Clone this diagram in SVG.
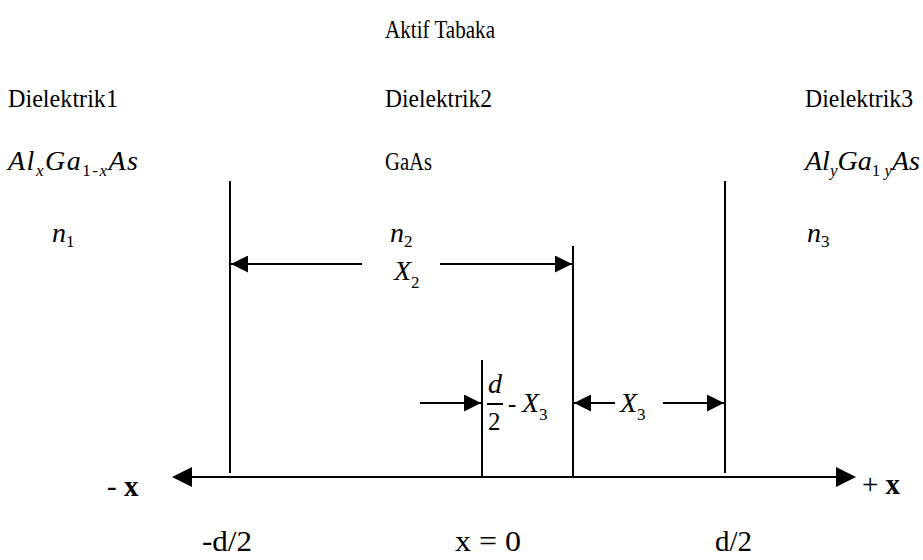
<svg xmlns="http://www.w3.org/2000/svg" width="923" height="560" viewBox="0 0 923 560">
<style>
text{font-family:'Liberation Serif','Times New Roman','DejaVu Serif',serif;fill:#000}
.t{font-size:25px}
.m{font-size:28px;font-style:italic}
.s{font-size:17px;font-style:normal}
.si{font-size:17px;font-style:italic}
.b{font-weight:bold}
.ax{font-size:29px}
.ln{stroke:#000;stroke-width:2;fill:none}
.hd{fill:#000}
</style>
<defs>
<marker id="as" viewBox="0 0 20 20" refX="20" refY="10" markerWidth="18" markerHeight="17" markerUnits="userSpaceOnUse" orient="auto">
<path d="M0,0 L20,10 L0,20 z" fill="#000"/>
</marker>
</defs>
<g id="title"><text class="t" x="385" y="38" textLength="110" lengthAdjust="spacingAndGlyphs">Aktif Tabaka</text></g>
<g id="layer1">
<text class="t" x="8" y="107" textLength="110" lengthAdjust="spacingAndGlyphs">Dielektrik1</text>
<text class="m" x="8" y="170" textLength="130" lengthAdjust="spacing">Al<tspan class="si" dy="6">x</tspan><tspan dy="-6">Ga</tspan><tspan class="s" dy="6">1-</tspan><tspan class="si">x</tspan><tspan dy="-6">As</tspan></text>
<text class="m" x="52" y="242">n<tspan class="s" dy="5">1</tspan></text>
</g>
<g id="layer2">
<text class="t" x="385" y="107" textLength="107" lengthAdjust="spacingAndGlyphs">Dielektrik2</text>
<text class="t" x="385" y="170" textLength="47" lengthAdjust="spacingAndGlyphs">GaAs</text>
<text class="m" x="390" y="242">n<tspan class="s" dy="5">2</tspan></text>
</g>
<g id="layer3">
<text class="t" x="805" y="107" textLength="108" lengthAdjust="spacingAndGlyphs">Dielektrik3</text>
<text class="m" x="805" y="170">Al<tspan class="si" dy="6">y</tspan><tspan dy="-6">Ga</tspan><tspan class="s" dy="6">1 </tspan><tspan class="si">y</tspan><tspan dy="-6">As</tspan></text>
<text class="m" x="807" y="242">n<tspan class="s" dy="5">3</tspan></text>
</g>
<g id="connectors">
<line class="ln" x1="190" y1="477" x2="838" y2="477"/>
<path class="hd" d="M172,477 L192,467 L192,487 z"/>
<path class="hd" d="M856,477 L836,467 L836,487 z"/>
<line class="ln" x1="230" y1="181" x2="230" y2="473"/>
<line class="ln" x1="725" y1="181" x2="725" y2="473"/>
<line class="ln" x1="573" y1="246" x2="573" y2="477"/>
<line class="ln" x1="482" y1="360" x2="482" y2="477"/>
<line class="ln" x1="362" y1="264" x2="231" y2="264" marker-end="url(#as)"/>
<line class="ln" x1="440" y1="264" x2="572" y2="264" marker-end="url(#as)"/>
<line class="ln" x1="420" y1="403" x2="481" y2="403" marker-end="url(#as)"/>
<line class="ln" x1="615" y1="403" x2="574" y2="403" marker-end="url(#as)"/>
<line class="ln" x1="663" y1="403" x2="724" y2="403" marker-end="url(#as)"/>
</g>
<g id="dim-x2"><text class="m" x="394" y="280">X<tspan class="s" dy="8">2</tspan></text></g>
<g id="dim-half">
<text class="m" x="488" y="393" font-size="27">d</text>
<line class="ln" x1="487" y1="404" x2="503" y2="404" stroke-width="1.5"/>
<text class="t" x="488" y="430">2</text>
<text class="t" x="508" y="412">-</text>
<text class="m" x="522" y="412">X<tspan class="s" dy="8">3</tspan></text>
</g>
<g id="dim-x3"><text class="m" x="620" y="412">X<tspan class="s" dy="8">3</tspan></text></g>
<g id="axis-labels">
<text class="ax" x="107" y="496">- <tspan class="b">x</tspan></text>
<text class="ax" x="862" y="494">+ <tspan class="b">x</tspan></text>
<text class="ax" x="202" y="551" textLength="50" lengthAdjust="spacingAndGlyphs">-d/2</text>
<text class="ax" x="455" y="551" textLength="66" lengthAdjust="spacingAndGlyphs">x = 0</text>
<text class="ax" x="715" y="551" textLength="37" lengthAdjust="spacingAndGlyphs">d/2</text>
</g>
</svg>
